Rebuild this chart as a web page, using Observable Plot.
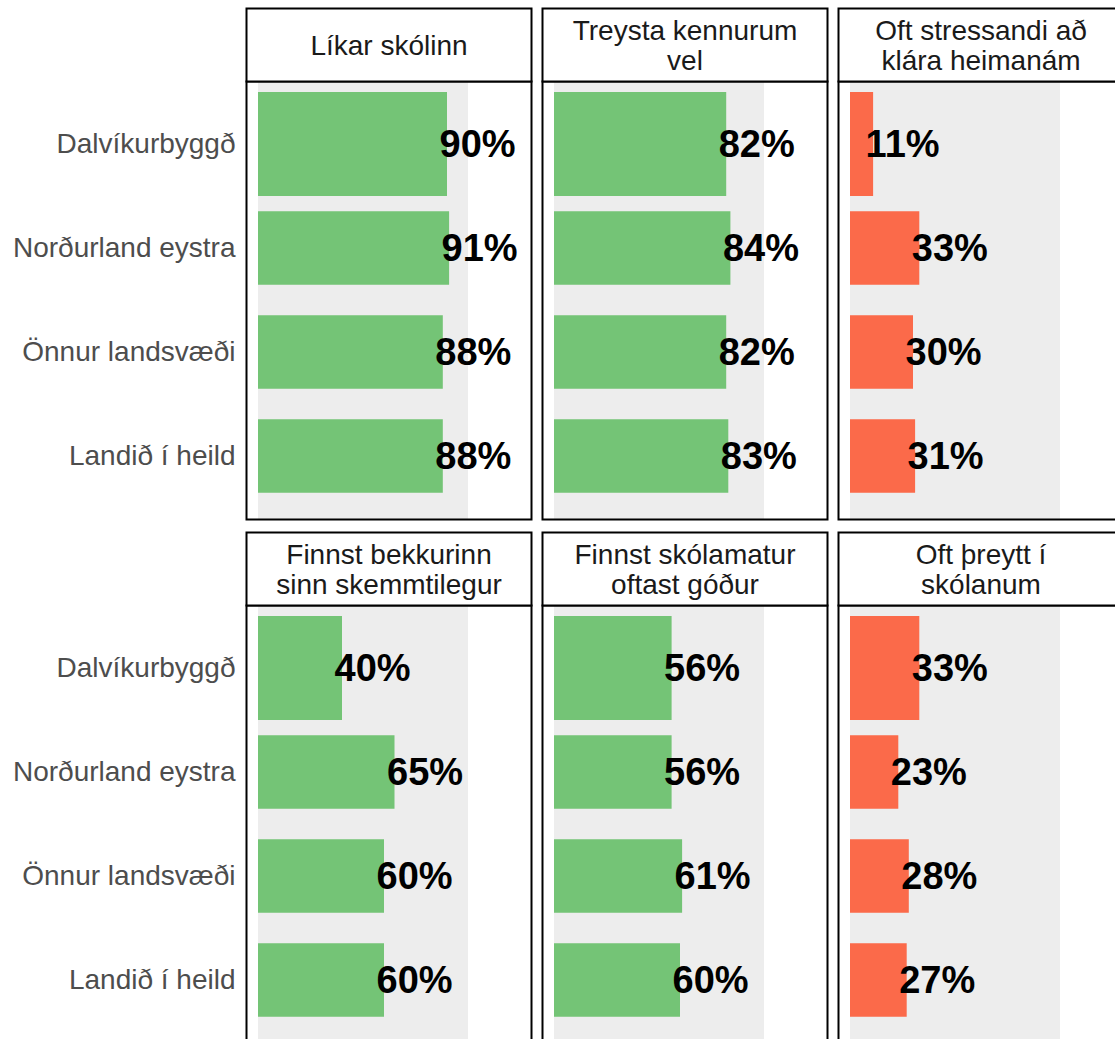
<!DOCTYPE html>
<html>
<head>
<meta charset="utf-8">
<script src="https://cdn.jsdelivr.net/npm/d3@7"></script>
<script src="https://cdn.jsdelivr.net/npm/@observablehq/plot@0.6"></script>
<style>
  html, body { margin: 0; padding: 0; background: white; overflow: hidden; }
  #chart svg { max-width: none !important; display: block; }
</style>
</head>
<body>
<div id="chart"></div>
<script>
// ---- data ----
const regions = ["Dalvíkurbyggð", "Norðurland eystra", "Önnur landsvæði", "Landið í heild"];
const titles = [
  "Líkar skólinn",
  "Treysta kennurum\nvel",
  "Oft stressandi að\nklára heimanám",
  "Finnst bekkurinn\nsinn skemmtilegur",
  "Finnst skólamatur\noftast góður",
  "Oft þreytt í\nskólanum"
];
const panelRow = [0, 0, 0, 1, 1, 1];
const panelCol = [0, 1, 2, 0, 1, 2];
const negative = [false, false, true, false, false, true];
const values = [
  [90, 91, 88, 88],
  [82, 84, 82, 83],
  [11, 33, 30, 31],
  [40, 65, 60, 60],
  [56, 56, 61, 60],
  [33, 23, 28, 27]
];
const highlightRegion = "Dalvíkurbyggð";
const trackMax = 100;

// ---- tables ----
const panels = titles.map((t, i) => ({title: t, row: panelRow[i], col: panelCol[i]}));
const rows = [];
values.forEach((vals, i) => vals.forEach((v, j) => rows.push({
  row: panelRow[i], col: panelCol[i], region: regions[j], value: v, neg: negative[i]
})));

const green = "#74c476", red = "#fb6a4a";
const fillOf = d => d.neg ? red : green;

const chart = Plot.plot({
  width: 1124,
  height: 1044,
  marginTop: 81,
  marginBottom: 1,
  marginLeft: 246,
  marginRight: 1,
  style: {fontFamily: "'Liberation Sans', Arial, sans-serif", background: "white", maxWidth: "none", overflow: "visible"},
  fx: {domain: [0, 1, 2], paddingInner: 11 / 296, paddingOuter: 0, axis: null},
  fy: {domain: [0, 1], paddingInner: 86 / 524, paddingOuter: 0, axis: null},
  x: {domain: [-12 / 2.1, 273 / 2.1], axis: null},
  y: {domain: regions, paddingInner: 0, paddingOuter: 0.0957, align: 0.5},
  marks: [
    Plot.rect(panels, {fx: "col", fy: "row", x1: 0, x2: trackMax, fill: "#ededed"}),
    Plot.barX(rows.filter(d => d.region === highlightRegion), {
      fx: "col", fy: "row", x: "value", y: "region", fill: fillOf, insetTop: 0, insetBottom: 0
    }),
    Plot.barX(rows.filter(d => d.region !== highlightRegion), {
      fx: "col", fy: "row", x: "value", y: "region", fill: fillOf, insetTop: 15.25, insetBottom: 15.25
    }),
    Plot.text(rows, {
      fx: "col", fy: "row", x: "value", y: "region", text: d => d.value + "%",
      textAnchor: "start", dx: -8, fontSize: 38, fontWeight: "bold", fill: "black"
    }),
    Plot.axisY({tickSize: 0, tickPadding: 11, fontSize: 28, fill: "#4d4d4d", label: null}),
    Plot.frame({stroke: "black", strokeWidth: 2}),
    Plot.frame({stroke: "black", strokeWidth: 2, fill: "white", insetTop: -73, insetBottom: 438}),
    Plot.text(panels, {
      fx: "col", fy: "row", text: "title", frameAnchor: "top", lineAnchor: "middle",
      dy: -36.5, fontSize: 28, lineHeight: 1.07, fill: "#1a1a1a"
    })
  ]
});
document.getElementById("chart").appendChild(chart);
</script>
</body>
</html>
